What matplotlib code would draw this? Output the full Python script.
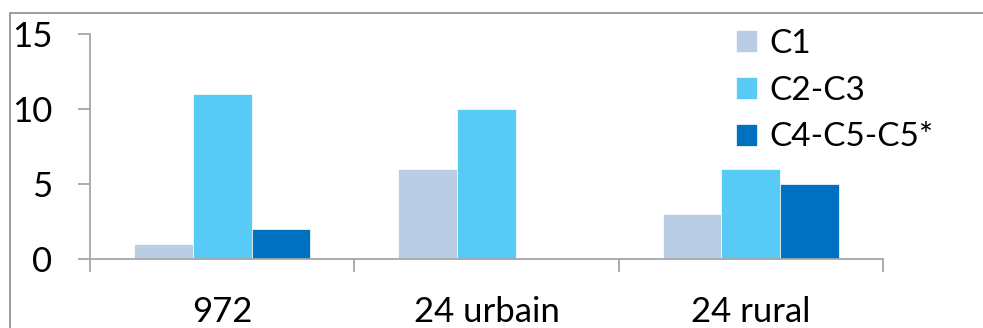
import matplotlib
matplotlib.use("Agg")
import matplotlib.pyplot as plt
import numpy as np
from matplotlib.patches import Rectangle

categories = ["972", "24 urbain", "24 rural"]
series_names = ["C1", "C2-C3", "C4-C5-C5*"]
c1 = [1, 6, 3]
c2_c3 = [11, 10, 6]
c4_c5 = [2, 0, 5]
yticks = [0, 5, 10, 15]

colors = ["#B9CDE5", "#57CBF5", "#0070C0"]

W, H = 983, 328
plt.rcParams['font.family'] = ['Lato', 'DejaVu Sans']
fig = plt.figure(figsize=(W / 100, H / 100), dpi=100)

# outer chart frame (cropped)
fig.patches.append(Rectangle((9.5 / W, -0.1), 1.2, (H - 12.5) / H + 0.1,
                             transform=fig.transFigure, fill=False,
                             edgecolor="#8C8C8C", linewidth=1.2))

left, right, top, bottom = 90, 883, 34, 259
ax = fig.add_axes([left / W, (H - bottom) / H, (right - left) / W, (bottom - top) / H])

x = np.arange(len(categories))
bw = 1 / 4.5
for i, (vals, name) in enumerate(zip([c1, c2_c3, c4_c5], series_names)):
    ax.bar(x + (i - 1) * bw, vals, width=bw, color=colors[i], label=name,
           edgecolor="white", linewidth=0.5)

ax.set_xlim(-0.5, len(categories) - 0.5)
ax.set_ylim(0, 15)
ax.set_yticks(yticks)
ax.set_yticklabels([str(t) for t in yticks])
ax.set_xticks(x)
ax.set_xticklabels(categories)
ax.set_xticks(np.arange(-0.5, len(categories)), minor=True)

for s in ["top", "right"]:
    ax.spines[s].set_visible(False)
for s in ["left", "bottom"]:
    ax.spines[s].set_color("#A6A6A6")
    ax.spines[s].set_linewidth(1.3)

ax.tick_params(axis="y", length=9, width=1.3, color="#A6A6A6", pad=18,
               labelsize=25, labelcolor="black")
ax.tick_params(axis="x", which="major", length=0, pad=27, labelsize=25,
               labelcolor="black")
ax.tick_params(axis="x", which="minor", length=9.5, width=1.3, color="#A6A6A6")

leg = ax.legend(loc="upper left", bbox_to_anchor=(736 / W, (H - 29) / H),
                bbox_transform=fig.transFigure, frameon=False, fontsize=24,
                handlelength=0.64, handleheight=0.64, handletextpad=0.36,
                labelspacing=0.5, borderpad=0, borderaxespad=0)

fig.savefig("out.png", dpi=100)
